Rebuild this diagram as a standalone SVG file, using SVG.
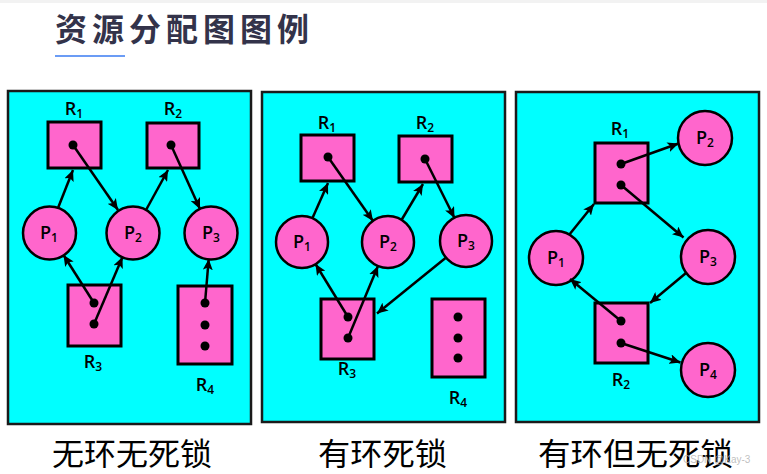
<svg xmlns="http://www.w3.org/2000/svg" width="767" height="474" viewBox="0 0 767 474">
<defs>
<marker id="arr" markerUnits="userSpaceOnUse" markerWidth="12" markerHeight="10" refX="11" refY="5" orient="auto">
<path d="M0,0 L11,5 L0,10 L2.5,5 z" fill="#000"/>
</marker>
<style>
.panel{fill:#00ffff;stroke:#1a1a1a;stroke-width:2.5}
.res{fill:#ff66cc;stroke:#000;stroke-width:3}
.proc{fill:#ff66cc;stroke:#000;stroke-width:2.5}
.dot{fill:#000}
.edge{stroke:#000;stroke-width:2.5;fill:none;marker-end:url(#arr)}
.lbl{font-family:"Open Sans","Noto Sans",sans-serif;font-size:18px;font-weight:600;fill:#000;text-anchor:middle}
.sub{font-size:12px}
.cap{font-family:"Noto Sans CJK SC",sans-serif;font-size:31px;fill:#000}
</style>
</defs>
<rect x="0" y="0" width="767" height="474" fill="#fff"/>
<rect x="0" y="0" width="767" height="3" fill="#f2f2f2"/>
<g id="title">
<text x="55" y="41" font-family="'Noto Sans CJK SC',serif" font-size="32" font-weight="bold" fill="#33334a" letter-spacing="5">资源分配图图例</text>
<rect x="55" y="55" width="70" height="2" fill="#6b9cf5"/>
</g>
<g id="panels">
<rect class="panel" x="8" y="91" width="243" height="333"/>
<rect class="panel" x="262" y="92" width="243" height="330"/>
<rect class="panel" x="516" y="92" width="243" height="330"/>
</g>
<!-- Panel 1 -->
<g id="a-R1"><rect class="res" x="48" y="122" width="53" height="46"/><circle class="dot" cx="73" cy="145" r="4.5"/><text class="lbl" x="74" y="115">R<tspan class="sub" dy="3">1</tspan></text></g>
<g id="a-R2"><rect class="res" x="147" y="123" width="52" height="45"/><circle class="dot" cx="171" cy="145" r="4.5"/><text class="lbl" x="173" y="115">R<tspan class="sub" dy="3">2</tspan></text></g>
<g id="a-P1"><circle class="proc" cx="49.5" cy="233" r="26.5"/><text class="lbl" x="49" y="239">P<tspan class="sub" dy="3">1</tspan></text></g>
<g id="a-P2"><circle class="proc" cx="133" cy="233" r="26.5"/><text class="lbl" x="133" y="239">P<tspan class="sub" dy="3">2</tspan></text></g>
<g id="a-P3"><circle class="proc" cx="211" cy="233" r="26.5"/><text class="lbl" x="211" y="239">P<tspan class="sub" dy="3">3</tspan></text></g>
<g id="a-R3"><rect class="res" x="68" y="285" width="53" height="61"/><circle class="dot" cx="94" cy="303" r="4.5"/><circle class="dot" cx="94" cy="324" r="4.5"/><text class="lbl" x="93" y="368">R<tspan class="sub" dy="3">3</tspan></text></g>
<g id="a-R4"><rect class="res" x="178" y="286" width="54" height="78"/><circle class="dot" cx="205" cy="303" r="4.5"/><circle class="dot" cx="205" cy="325" r="4.5"/><circle class="dot" cx="205" cy="346" r="4.5"/><text class="lbl" x="205" y="391">R<tspan class="sub" dy="3">4</tspan></text></g>
<!-- Panel 2 -->
<g id="b-R1"><rect class="res" x="301" y="135" width="53" height="46"/><circle class="dot" cx="328" cy="157" r="4.5"/><text class="lbl" x="327" y="129">R<tspan class="sub" dy="3">1</tspan></text></g>
<g id="b-R2"><rect class="res" x="399" y="136" width="53" height="46"/><circle class="dot" cx="425" cy="159" r="4.5"/><text class="lbl" x="425" y="129">R<tspan class="sub" dy="3">2</tspan></text></g>
<g id="b-P1"><circle class="proc" cx="302" cy="242" r="26"/><text class="lbl" x="302" y="248">P<tspan class="sub" dy="3">1</tspan></text></g>
<g id="b-P2"><circle class="proc" cx="388" cy="242" r="26"/><text class="lbl" x="388" y="248">P<tspan class="sub" dy="3">2</tspan></text></g>
<g id="b-P3"><circle class="proc" cx="466" cy="241" r="26"/><text class="lbl" x="466" y="247">P<tspan class="sub" dy="3">3</tspan></text></g>
<g id="b-R3"><rect class="res" x="321" y="299" width="53" height="60"/><circle class="dot" cx="348" cy="317" r="4.5"/><circle class="dot" cx="348" cy="338" r="4.5"/><text class="lbl" x="347" y="375">R<tspan class="sub" dy="3">3</tspan></text></g>
<g id="b-R4"><rect class="res" x="432" y="299" width="53" height="78"/><circle class="dot" cx="458" cy="317" r="4.5"/><circle class="dot" cx="458" cy="338" r="4.5"/><circle class="dot" cx="458" cy="358" r="4.5"/><text class="lbl" x="458" y="404">R<tspan class="sub" dy="3">4</tspan></text></g>
<!-- Panel 3 -->
<g id="c-R1"><rect class="res" x="595" y="143" width="53" height="60"/><circle class="dot" cx="621" cy="164" r="4.5"/><circle class="dot" cx="621" cy="185" r="4.5"/><text class="lbl" x="620" y="135">R<tspan class="sub" dy="3">1</tspan></text></g>
<g id="c-P2"><circle class="proc" cx="705" cy="138" r="27"/><text class="lbl" x="705" y="144">P<tspan class="sub" dy="3">2</tspan></text></g>
<g id="c-P1"><circle class="proc" cx="556" cy="258" r="27"/><text class="lbl" x="556" y="264">P<tspan class="sub" dy="3">1</tspan></text></g>
<g id="c-P3"><circle class="proc" cx="708" cy="257" r="27"/><text class="lbl" x="708" y="263">P<tspan class="sub" dy="3">3</tspan></text></g>
<g id="c-R2"><rect class="res" x="595" y="303" width="53" height="60"/><circle class="dot" cx="621" cy="321" r="4.5"/><circle class="dot" cx="621" cy="343" r="4.5"/><text class="lbl" x="621" y="386">R<tspan class="sub" dy="3">2</tspan></text></g>
<g id="c-P4"><circle class="proc" cx="708" cy="370" r="27"/><text class="lbl" x="708" y="376">P<tspan class="sub" dy="3">4</tspan></text></g>
<g id="connectors">
<line class="edge" x1="58" y1="208" x2="73" y2="170"/>
<line class="edge" x1="73" y1="145" x2="118" y2="210"/>
<line class="edge" x1="146" y1="210" x2="168" y2="170"/>
<line class="edge" x1="171" y1="145" x2="200" y2="209"/>
<line class="edge" x1="94" y1="303" x2="63.5" y2="255"/>
<line class="edge" x1="94" y1="324" x2="122.5" y2="257"/>
<line class="edge" x1="205" y1="303" x2="208.7" y2="259"/>
<line class="edge" x1="312.5" y1="218" x2="328" y2="183"/>
<line class="edge" x1="328" y1="157" x2="373" y2="221"/>
<line class="edge" x1="401.5" y1="220" x2="423" y2="184"/>
<line class="edge" x1="425" y1="159" x2="454.5" y2="218"/>
<line class="edge" x1="348" y1="317" x2="315.5" y2="264"/>
<line class="edge" x1="348" y1="338" x2="378" y2="266"/>
<line class="edge" x1="445.5" y1="258" x2="377" y2="313.5"/>
<line class="edge" x1="621" y1="164" x2="678.5" y2="143.5"/>
<line class="edge" x1="621" y1="185" x2="683.5" y2="237.5"/>
<line class="edge" x1="569" y1="235" x2="594" y2="204"/>
<line class="edge" x1="686" y1="273" x2="650" y2="303"/>
<line class="edge" x1="621" y1="321" x2="570" y2="279"/>
<line class="edge" x1="621" y1="343" x2="680.5" y2="362.5"/>
</g>
<g id="captions">
<text class="cap" x="52" y="465" textLength="160" lengthAdjust="spacingAndGlyphs">无环无死锁</text>
<text class="cap" x="318" y="465" textLength="129" lengthAdjust="spacingAndGlyphs">有环死锁</text>
<text class="cap" x="538" y="465" textLength="195" lengthAdjust="spacingAndGlyphs">有环但无死锁</text>
<text x="683" y="463" font-family="'Liberation Sans',sans-serif" font-size="10" fill="#b0b0b0" fill-opacity="0.8">CSDN @Kay-3</text>
</g>
</svg>
